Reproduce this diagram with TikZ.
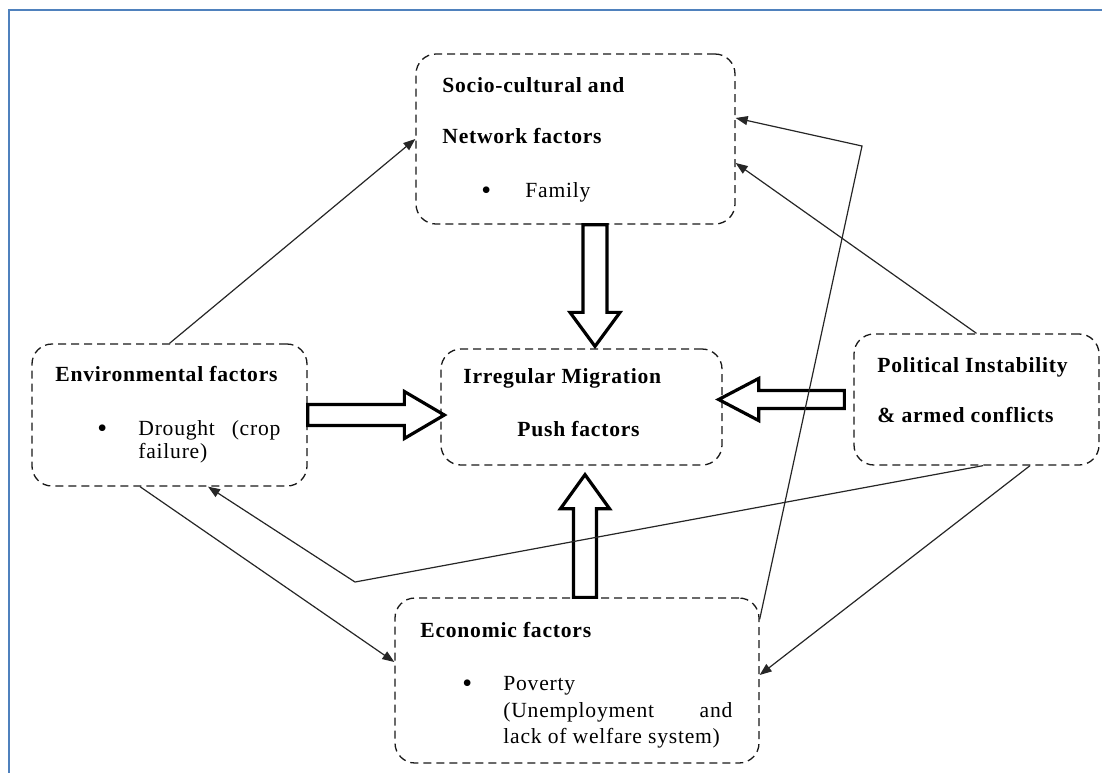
\documentclass[tikz,border=0pt]{standalone}
\usepackage{fontspec}
\setmainfont{Liberation Serif}[LetterSpace=3.5]
\usetikzlibrary{arrows.meta,calc}

\definecolor{framecol}{RGB}{79,129,189}

\begin{document}
\begin{tikzpicture}[x=0.5pt, y=-0.5pt,
		box_style/.style={draw=black!90, dash pattern=on 4pt off 2.5pt, line width=0.65pt, rounded corners=10pt, inner sep=0pt},
		text_style/.style={anchor=base west, inner sep=0pt, font=\fontsize{10.8}{12}\selectfont},
		head_style/.style={anchor=base west, inner sep=0pt, font=\fontsize{10.8}{12}\selectfont\bfseries},
		dot_style/.style={anchor=base west, inner sep=0pt, font=\fontsize{14}{12}\selectfont},
		edge_style/.style={draw=black!85, line width=0.6pt, -{Triangle[length=6pt,width=4.5pt]}},
		fat_style/.style={draw=black, line width=1.6pt, line join=miter}]
		
		\useasboundingbox (0,0) rectangle (1102,772);
		\clip (0,0) rectangle (1102,772);
		\draw[framecol, line width=1pt] (8.5,10) rectangle (1120,790);
		
		% boxes
		\node[box_style, minimum width=159.5pt, minimum height=85pt] (soc) at (575.5,139) {};
		\node[box_style, minimum width=137.5pt, minimum height=71pt] (env) at (169.5,415) {};
		\node[box_style, minimum width=140.5pt, minimum height=58pt] (mig) at (581.5,407) {};
		\node[box_style, minimum width=122.5pt, minimum height=65.5pt] (pol) at (976.5,399.5) {};
		\node[box_style, minimum width=182pt, minimum height=82.5pt] (eco) at (577,680.5) {};
		
		% texts
		\node[head_style] (soc_t1) at (442,92) {Socio-cultural and};
		\node[head_style] (soc_t2) at (442,143) {Network factors};
		\node[dot_style] (soc_b) at (481,199) {\textbullet};
		\node[text_style] (soc_t3) at (525,197) {Family};
		
		\node[head_style] (env_t1) at (55,381) {Environmental factors};
		\node[dot_style] (env_b) at (97,437) {\textbullet};
		\node[text_style] (env_t2) at (138,435) {\makebox[71pt][s]{Drought (crop}};
		\node[text_style] (env_t3) at (138,458) {failure)};
		
		\node[head_style] (mig_t1) at (463,383) {Irregular Migration};
		\node[head_style] (mig_t2) at (517,436) {Push factors};
		
		\node[head_style] (pol_t1) at (877,372) {Political Instability};
		\node[head_style] (pol_t2) at (877,422) {\& armed conflicts};
		
		\node[head_style] (eco_t1) at (420,637) {Economic factors};
		\node[dot_style] (eco_b) at (462,692) {\textbullet};
		\node[text_style] (eco_t2) at (503,690) {Poverty};
		\node[text_style] (eco_t3) at (503,717) {\makebox[114.5pt][s]{(Unemployment and}};
		\node[text_style] (eco_t4) at (503,743) {lack of welfare system)};
		
		% hollow arrows
		\coordinate (dn_s) at ($(soc.south)+(19.5,0)$);
		\coordinate (dn_e) at ($(dn_s |- mig.north)+(0,-2)$);
		\draw[fat_style] ($(dn_s)+(-12,0)$) -- ($(dn_e)+(-12,-34)$) -- ($(dn_e)+(-25,-34)$) -- (dn_e)
			-- ($(dn_e)+(25,-34)$) -- ($(dn_e)+(12,-34)$) -- ($(dn_s)+(12,0)$) -- cycle;
		
		\coordinate (rt_s) at (env.east);
		\coordinate (rt_e) at ($(rt_s -| mig.west)+(4,0)$);
		\draw[fat_style] ($(rt_s)+(0,-10.5)$) -- ($(rt_e)+(-40,-10.5)$) -- ($(rt_e)+(-40,-23.5)$) -- (rt_e)
			-- ($(rt_e)+(-40,23.5)$) -- ($(rt_e)+(-40,10.5)$) -- ($(rt_s)+(0,10.5)$) -- cycle;
		
		\coordinate (lt_s) at ($(pol.west)+(-9,0)$);
		\coordinate (lt_e) at ($(lt_s -| mig.east)+(-4,0)$);
		\draw[fat_style] ($(lt_s)+(0,-9)$) -- ($(lt_e)+(40,-9)$) -- ($(lt_e)+(40,-21)$) -- (lt_e)
			-- ($(lt_e)+(40,21)$) -- ($(lt_e)+(40,9)$) -- ($(lt_s)+(0,9)$) -- cycle;
		
		\coordinate (up_s) at ($(eco.north)+(8,0)$);
		\coordinate (up_e) at ($(up_s |- mig.south)+(0,9)$);
		\draw[fat_style] ($(up_s)+(-11.5,0)$) -- ($(up_e)+(-11.5,34)$) -- ($(up_e)+(-24.5,34)$) -- (up_e)
			-- ($(up_e)+(24.5,34)$) -- ($(up_e)+(11.5,34)$) -- ($(up_s)+(11.5,0)$) -- cycle;
		
		% thin arrows
		\coordinate (bend_r) at (862,146);
		\coordinate (bend_l) at (355,582);
		\draw[edge_style] (env.north) -- (soc.west);
		\draw[edge_style] (pol.north) -- ($(soc.east)+(0,24)$);
		\draw[edge_style] ($(eco.north east)+(0,22)$) -- (bend_r) -- ($(soc.east)+(0,-21)$);
		\draw[edge_style] ($(pol.south)+(6.5,0)$) -- (bend_l) -- ($(env.south)+(38.5,0)$);
		\draw[edge_style] ($(env.south)+(-29.5,0)$) -- ($(eco.west)+(0,-18.5)$);
		\draw[edge_style] ($(pol.south)+(53.5,0)$) -- ($(eco.east)+(0,-5.5)$);
		
\end{tikzpicture}
\end{document}
